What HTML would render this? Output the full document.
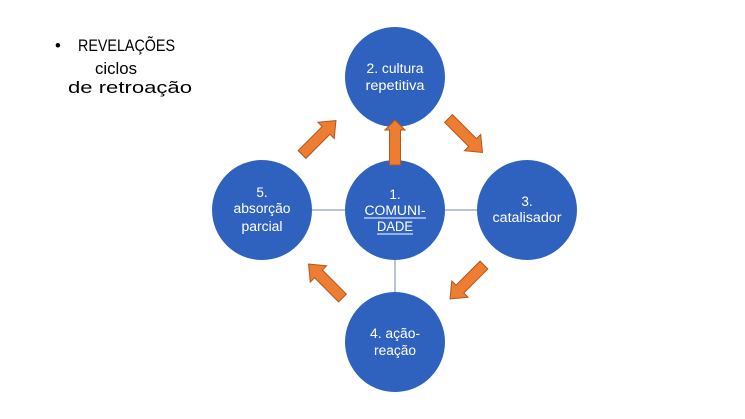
<!DOCTYPE html>
<html><head><meta charset="utf-8"><style>
html,body{margin:0;padding:0;background:#fff;}
svg{display:block;}
text{font-family:"Liberation Sans",sans-serif;}
</style></head><body>
<svg width="745" height="419" viewBox="0 0 745 419" xmlns="http://www.w3.org/2000/svg">
<rect width="745" height="419" fill="#fff"/>
<!-- left text -->
<g fill="#000" font-size="16.5">
<text x="55" y="51">•</text>
<text x="78" y="51" textLength="97" lengthAdjust="spacingAndGlyphs">REVELAÇÕES</text>
<text x="95" y="74" textLength="42" lengthAdjust="spacingAndGlyphs">ciclos</text>
<text x="68" y="93" textLength="124" lengthAdjust="spacingAndGlyphs">de retroação</text>
</g>
<!-- connectors -->
<line x1="300" y1="210" x2="490" y2="210" stroke="#a3b1c6" stroke-width="1.5"/>
<line x1="395" y1="250" x2="395" y2="300" stroke="#a3b1c6" stroke-width="1.5"/>
<!-- circles -->
<g fill="#2f62bf">
<circle cx="395" cy="77" r="50"/>
<circle cx="395" cy="210" r="50"/>
<circle cx="262" cy="210" r="50"/>
<circle cx="527" cy="210" r="50"/>
<circle cx="395" cy="342" r="50"/>
</g>
<!-- labels -->
<g fill="#fff" font-size="13.5" text-anchor="middle">
<text x="395" y="73" textLength="57" lengthAdjust="spacingAndGlyphs">2. cultura</text>
<text x="395" y="90" textLength="59" lengthAdjust="spacingAndGlyphs">repetitiva</text>
<text x="395" y="199">1.</text>
<text x="395" y="215" textLength="61" lengthAdjust="spacingAndGlyphs">COMUNI-</text>
<text x="395" y="231" textLength="36" lengthAdjust="spacingAndGlyphs">DADE</text>
<text x="262" y="197">5.</text>
<text x="262" y="213" textLength="57" lengthAdjust="spacingAndGlyphs">absorção</text>
<text x="262" y="231" textLength="41" lengthAdjust="spacingAndGlyphs">parcial</text>
<text x="527" y="206">3.</text>
<text x="527" y="222" textLength="69" lengthAdjust="spacingAndGlyphs">catalisador</text>
<text x="395" y="338" textLength="50" lengthAdjust="spacingAndGlyphs">4. ação-</text>
<text x="395" y="355" textLength="42" lengthAdjust="spacingAndGlyphs">reação</text>
</g>
<!-- underlines -->
<line x1="364" y1="218" x2="426" y2="218" stroke="#fff" stroke-width="1"/>
<line x1="377" y1="234" x2="413" y2="234" stroke="#fff" stroke-width="1"/>
<!-- arrows -->
<g fill="#ed7d31" stroke="#b1561c" stroke-width="1">
<polygon points="389.5,165 400.5,165 400.5,130 405,130 395,120 385,130 389.5,130"/>
<g transform="translate(319,137.5) rotate(-45)">
<polygon points="-24,-5.5 10,-5.5 10,-11.5 24,0 10,11.5 10,5.5 -24,5.5"/>
</g>
<g transform="translate(465.5,135.5) rotate(45)">
<polygon points="-24,-5.5 10,-5.5 10,-11.5 24,0 10,11.5 10,5.5 -24,5.5"/>
</g>
<g transform="translate(467,282) rotate(135)">
<polygon points="-24,-5.5 10,-5.5 10,-11.5 24,0 10,11.5 10,5.5 -24,5.5"/>
</g>
<g transform="translate(325.5,281) rotate(-135)">
<polygon points="-24,-5.5 10,-5.5 10,-11.5 24,0 10,11.5 10,5.5 -24,5.5"/>
</g>
</g>
</svg>
</body></html>
